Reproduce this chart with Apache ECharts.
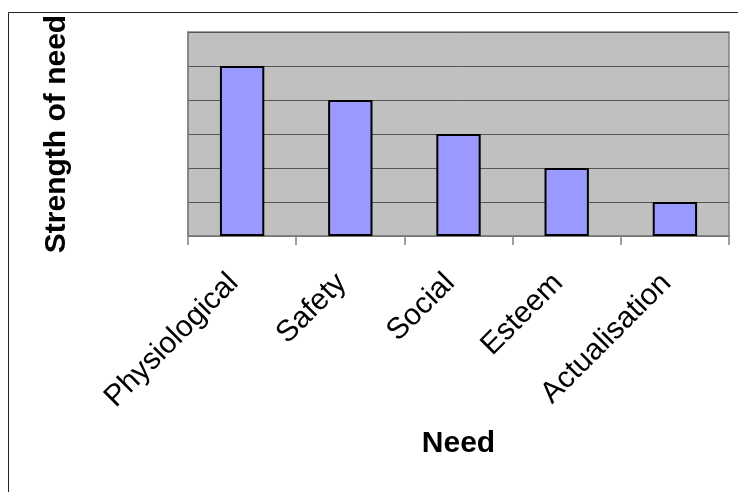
<!DOCTYPE html>
<html>
<head>
<meta charset="utf-8">
<script src="https://cdn.jsdelivr.net/npm/echarts@6/dist/echarts.min.js"></script>
<style>
html,body{margin:0;padding:0;background:#fff;}
#c{width:738px;height:492px;}
</style>
</head>
<body>
<div id="c"></div>
<script>
const categories = ['Physiological', 'Safety', 'Social', 'Esteem', 'Actualisation'];
const strengthValues = [5, 4, 3, 2, 1];
const xAxisTitle = 'Need';
const yAxisTitle = 'Strength of need';

const chart = echarts.init(document.getElementById('c'), null, {renderer: 'canvas'});
const font = '"Liberation Sans", Arial, sans-serif';
chart.setOption({
  animation: false,
  backgroundColor: '#fff',
  graphic: [{
    type: 'rect', z: -10, silent: true,
    shape: {x: 8.5, y: 12.5, width: 800, height: 600},
    style: {fill: 'none', stroke: '#222', lineWidth: 1}
  }],
  grid: {
    left: 188, top: 32, right: 9, bottom: 256,
    show: true, backgroundColor: '#C0C0C0', borderColor: '#808080', borderWidth: 1.5
  },
  xAxis: {
    type: 'category',
    data: categories,
    name: xAxisTitle,
    nameLocation: 'middle',
    nameGap: 193,
    nameTextStyle: {fontFamily: font, fontSize: 30, fontWeight: 'bold', color: '#000'},
    axisLine: {show: true, lineStyle: {color: '#808080', width: 1.5}},
    axisTick: {show: true, length: 9, interval: 0, lineStyle: {color: '#808080', width: 1.5}},
    axisLabel: {rotate: 45, interval: 0, margin: 34, padding: [0, 12, 0, 0], fontFamily: font, fontSize: 30, color: '#000'}
  },
  yAxis: {
    type: 'value',
    min: 0, max: 6, interval: 1,
    name: yAxisTitle,
    nameLocation: 'middle',
    nameGap: 116,
    nameTextStyle: {fontFamily: font, fontSize: 30, fontWeight: 'bold', color: '#000'},
    axisLine: {show: true, lineStyle: {color: '#808080', width: 1.5}},
    axisTick: {show: false},
    axisLabel: {show: false},
    splitLine: {show: true, lineStyle: {color: '#555', width: 1}}
  },
  series: [{
    type: 'bar',
    data: strengthValues,
    barWidth: '41%',
    itemStyle: {color: '#9999FF', borderColor: '#000', borderWidth: 2}
  }]
});
</script>
</body>
</html>
